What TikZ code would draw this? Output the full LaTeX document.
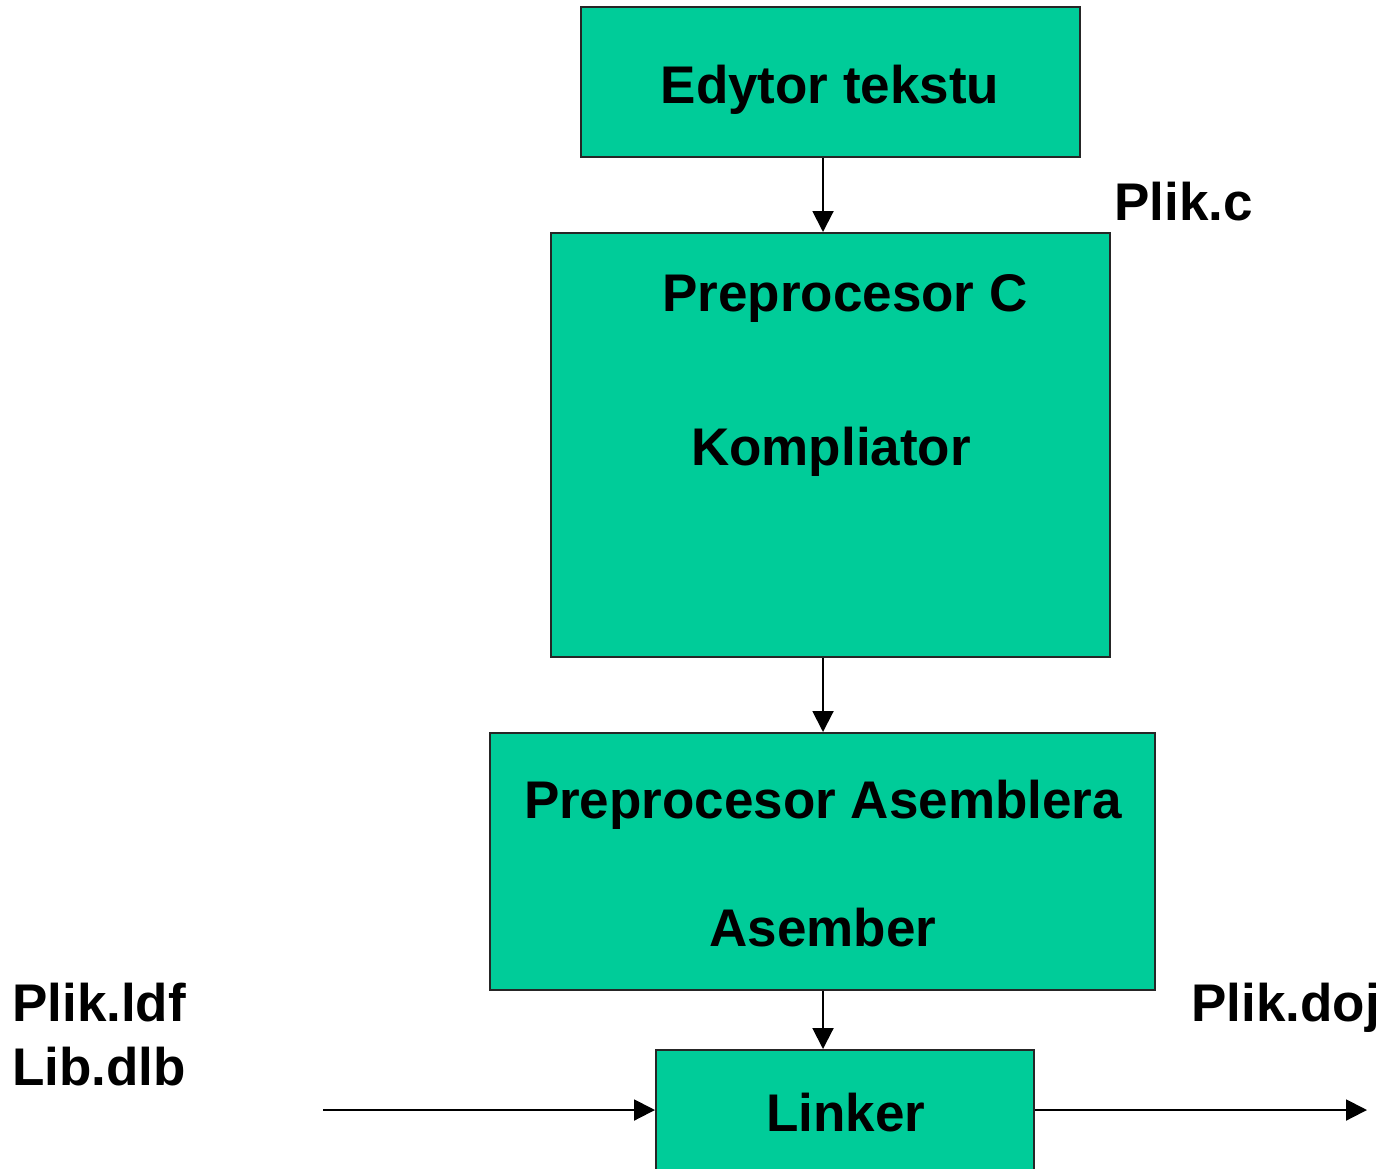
\documentclass[tikz,border=0pt]{standalone}
\usepackage{fontspec}
\setmainfont{Liberation Sans}
\usetikzlibrary{arrows.meta}
\definecolor{boxgreen}{RGB}{0,204,153}
\tikzset{
  stagebox/.style={draw=black!85, line width=2pt, fill=boxgreen, inner sep=0pt, anchor=center},
  lbl/.style={inner sep=0pt, font=\fontsize{53}{60}\selectfont\bfseries, text=black},
  arr/.style={line width=2pt, -{Triangle[length=21pt,width=21pt]}}
}
\begin{document}
\begin{tikzpicture}[x=1pt,y=-1pt]
\clip (0,0) rectangle (1383,1168);
\fill[white] (0,0) rectangle (1383,1168);
% boxes
\node[stagebox, minimum width=499pt, minimum height=150pt] (b1) at (830.5,82) {};
\node[stagebox, minimum width=559pt, minimum height=424pt] (b2) at (830.5,445) {};
\node[stagebox, minimum width=665pt, minimum height=257pt] (b3) at (822.5,861.5) {};
\node[stagebox, minimum width=378pt, minimum height=160pt] (b4) at (845,1130) {};
% texts
\node[lbl, anchor=base] (t1) at (830,103) {Edytor tekstu};
\node[lbl, anchor=base] (t2) at (845,311) {Preprocesor C};
\node[lbl, anchor=base] (t3) at (831,465) {Kompliator};
\node[lbl, anchor=base] (t4) at (823,818) {Preprocesor Asemblera};
\node[lbl, anchor=base] (t5) at (823,946) {Asember};
\node[lbl, anchor=base] (t6) at (846,1131) {Linker};
\node[lbl, anchor=base west] (plc) at (1114,220) {Plik.c};
\node[lbl, anchor=base west] (pldf) at (12,1021) {Plik.ldf};
\node[lbl, anchor=base west] (lib) at (12,1085) {Lib.dlb};
\node[lbl, anchor=base west] (pdoj) at (1191,1021) {Plik.doj};
% connectors
\coordinate (xa) at (823,0);
\coordinate (lin) at (323,1110);
\coordinate (lout) at (1367,1110);
\draw[arr] (b1.south -| xa) -- (b2.north -| xa);
\draw[arr] (b2.south -| xa) -- (b3.north -| xa);
\draw[arr] (b3.south -| xa) -- (b4.north -| xa);
\draw[arr] (lin) -- (lin -| b4.west);
\draw[arr] (b4.east |- lout) -- (lout);
\end{tikzpicture}
\end{document}
